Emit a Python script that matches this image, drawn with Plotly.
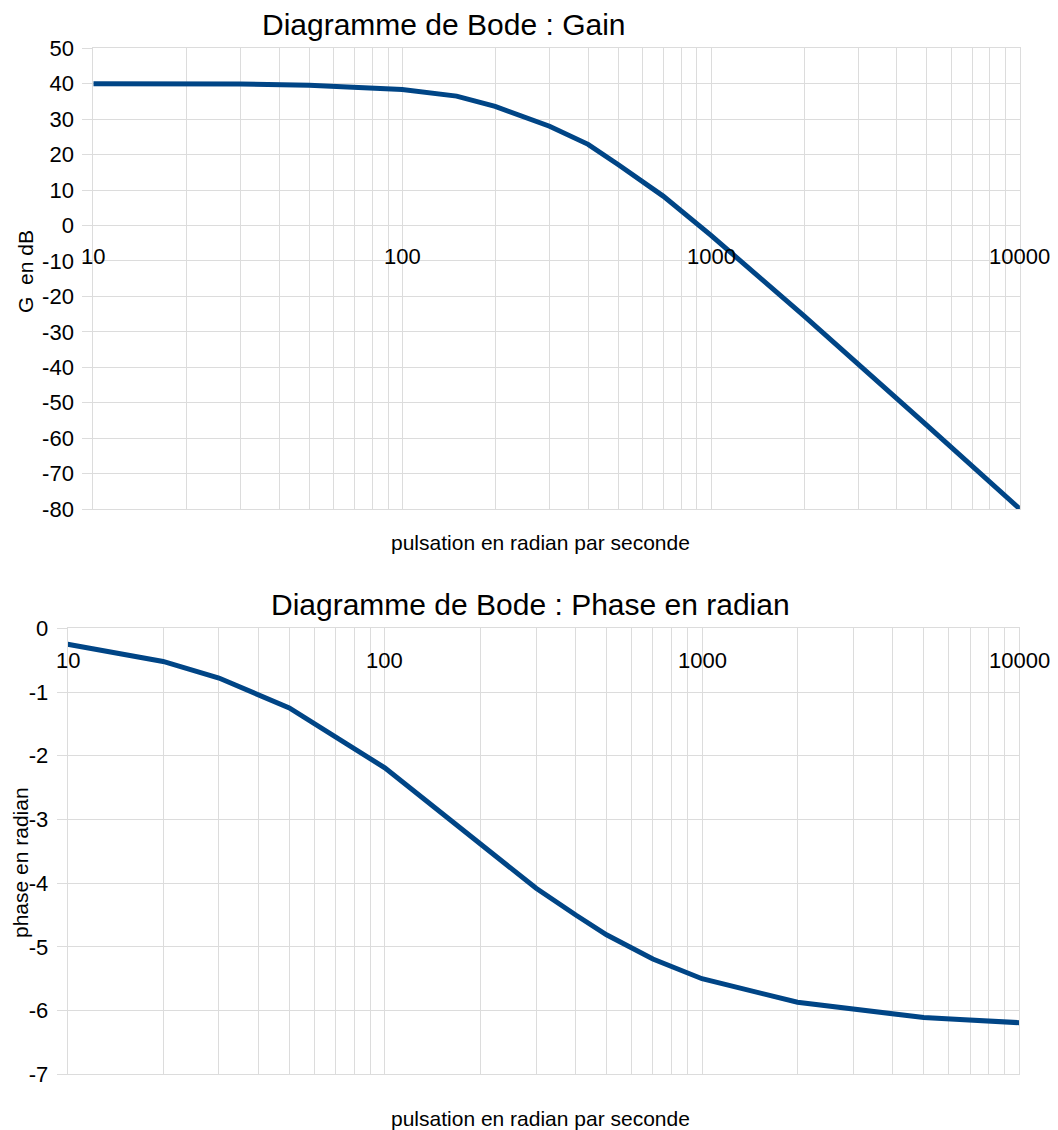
import math
import plotly.graph_objects as go

# ---------------- data ----------------
omega_gain = [10, 20, 30, 50, 100, 150, 200, 300, 400, 500, 700, 1000, 2000, 5000, 10000]
gain_db = [40.0, 40.0, 39.9, 39.6, 38.4, 36.5, 33.6, 28.0, 22.9, 17.2, 8.3, -2.8, -25.5, -56.4, -80.0]

omega_phase = [10, 20, 30, 50, 100, 200, 300, 400, 500, 700, 1000, 2000, 5000, 10000]
phase_rad = [-0.25, -0.52, -0.78, -1.25, -2.19, -3.38, -4.08, -4.50, -4.81, -5.19, -5.50, -5.87, -6.11, -6.19]

x_tick_values = [10, 100, 1000, 10000]
x_tick_labels = ["10", "100", "1000", "10000"]

gain_tick_values = [50, 40, 30, 20, 10, 0, -10, -20, -30, -40, -50, -60, -70, -80]
gain_tick_labels = ["50", "40", "30", "20", "10", "0", "-10", "-20", "-30", "-40", "-50", "-60", "-70", "-80"]
phase_tick_values = [0, -1, -2, -3, -4, -5, -6, -7]
phase_tick_labels = ["0", "-1", "-2", "-3", "-4", "-5", "-6", "-7"]

title_gain = "Diagramme de Bode : Gain"
title_phase = "Diagramme de Bode : Phase en radian"
xlabel = "pulsation en radian par seconde"
ylabel_gain = "G\u00a0 en dB"
ylabel_phase = "phase en radian"

# ---------------- layout helpers ----------------
OFF = 8  # page body margin
W, H = 1050, 1122
FONT = "Liberation Sans, Arial, sans-serif"
LINE_COLOR = "#004586"
GRID = "#dcdcdc"


def px_x(p):
    return (p - OFF) / W


def px_y(p):
    return 1 - (p - OFF) / H


fig = go.Figure()
fig.add_trace(go.Scatter(x=omega_gain, y=gain_db, mode="lines",
                         line=dict(color=LINE_COLOR, width=5),
                         xaxis="x", yaxis="y", showlegend=False))
fig.add_trace(go.Scatter(x=omega_phase, y=phase_rad, mode="lines",
                         line=dict(color=LINE_COLOR, width=5),
                         xaxis="x2", yaxis="y2", showlegend=False))

common_x = dict(type="log", dtick="D1", showticklabels=False, showgrid=True,
                gridcolor=GRID, gridwidth=1, zeroline=False, ticks="",
                showline=True, linecolor=GRID, linewidth=1, mirror=True,
                automargin=False)
common_y = dict(showgrid=True, gridcolor=GRID, gridwidth=1, zeroline=False,
                ticks="outside", ticklen=10, tickcolor=GRID, tickwidth=1,
                tickfont=dict(family=FONT, size=22, color="#000000"),
                showline=True, linecolor=GRID, linewidth=1, mirror=True,
                ticklabelstandoff=4, automargin=False, tickmode="array")

fig.update_layout(
    width=W, height=H,
    margin=dict(l=0, r=0, t=0, b=0, pad=0, autoexpand=False),
    paper_bgcolor="white", plot_bgcolor="white",
    font=dict(family=FONT, color="#000000"),
    xaxis=dict(domain=[px_x(93.3), px_x(1019.9)], range=[1, 4], anchor="y", **common_x),
    yaxis=dict(domain=[px_y(509), px_y(48.3)], range=[-80, 50], anchor="x",
               tickvals=gain_tick_values, ticktext=gain_tick_labels, **common_y),
    xaxis2=dict(domain=[px_x(67.6), px_x(1019.2)], range=[1, 4], anchor="y2", **common_x),
    yaxis2=dict(domain=[px_y(1074.3), px_y(628.3)], range=[-7, 0], anchor="x2",
                tickvals=phase_tick_values, ticktext=phase_tick_labels, **common_y),
)

annotations = []
# x tick labels placed at the y=0 level (axis crossing) of each chart
for v, lab in zip(x_tick_values, x_tick_labels):
    annotations.append(dict(x=math.log10(v), y=0, xref="x", yref="y", text=lab,
                            showarrow=False, xanchor="center", yanchor="middle",
                            yshift=-31, font=dict(family=FONT, size=22, color="#000000")))
    annotations.append(dict(x=math.log10(v), y=0, xref="x2", yref="y2", text=lab,
                            showarrow=False, xanchor="center", yanchor="middle",
                            yshift=-32, font=dict(family=FONT, size=22, color="#000000")))

# titles
annotations.append(dict(x=px_x(444), y=px_y(24), xref="paper", yref="paper", text=title_gain,
                        showarrow=False, xanchor="center", yanchor="middle",
                        font=dict(family=FONT, size=30, color="#000000")))
annotations.append(dict(x=px_x(530), y=px_y(604), xref="paper", yref="paper", text=title_phase,
                        showarrow=False, xanchor="center", yanchor="middle",
                        font=dict(family=FONT, size=30, color="#000000")))
# x axis titles
annotations.append(dict(x=px_x(540), y=px_y(542), xref="paper", yref="paper", text=xlabel,
                        showarrow=False, xanchor="center", yanchor="middle",
                        font=dict(family=FONT, size=21, color="#000000")))
annotations.append(dict(x=px_x(540), y=px_y(1118), xref="paper", yref="paper", text=xlabel,
                        showarrow=False, xanchor="center", yanchor="middle",
                        font=dict(family=FONT, size=21, color="#000000")))
# y axis titles
annotations.append(dict(x=px_x(25), y=px_y(272), xref="paper", yref="paper", text=ylabel_gain,
                        showarrow=False, xanchor="center", yanchor="middle", textangle=-90,
                        font=dict(family=FONT, size=21, color="#000000")))
annotations.append(dict(x=px_x(20), y=px_y(863), xref="paper", yref="paper", text=ylabel_phase,
                        showarrow=False, xanchor="center", yanchor="middle", textangle=-90,
                        borderpad=0,
                        font=dict(family=FONT, size=21, color="#000000")))

fig.update_layout(annotations=annotations)

fig.write_html("out.html")
